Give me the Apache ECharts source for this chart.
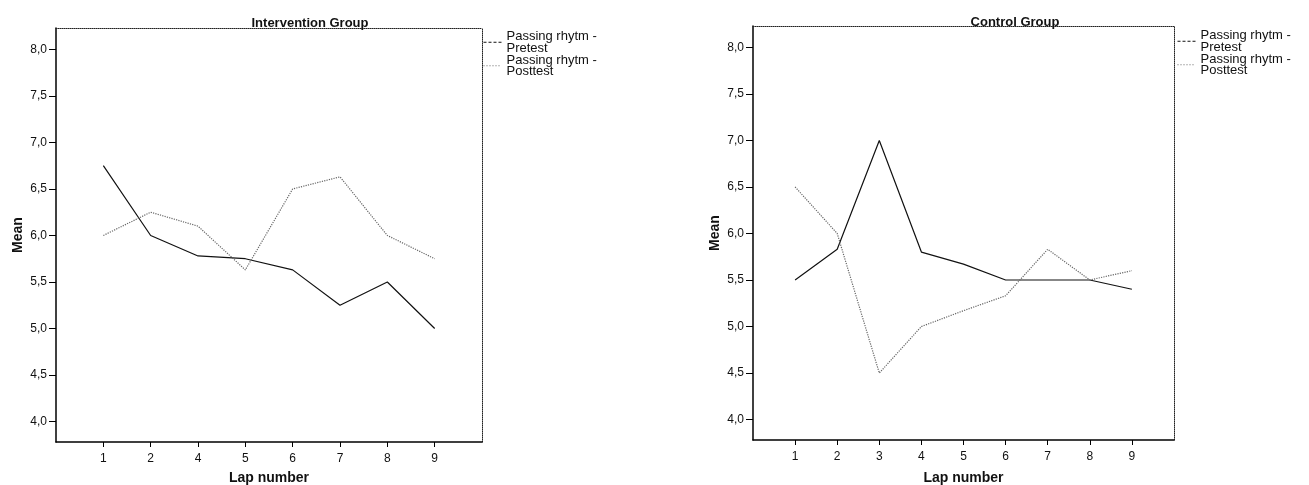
<!DOCTYPE html>
<html>
<head>
<meta charset="utf-8">
<script src="https://cdn.jsdelivr.net/npm/echarts@6/dist/echarts.min.js"></script>
<style>
  html, body { margin: 0; padding: 0; background: #fff; }
  #wrap { position: relative; width: 1309px; height: 485px; }
  #intervention { position: absolute; left: 0; top: 0; width: 654px; height: 485px; }
  #control { position: absolute; left: 654px; top: 0; width: 655px; height: 485px; }
</style>
</head>
<body>
<div id="wrap">
  <div id="intervention"></div>
  <div id="control"></div>
</div>
<script>
// Lap labels for each panel (the intervention group has no lap 3)
const interventionLaps = ['1', '2', '4', '5', '6', '7', '8', '9'];
const controlLaps = ['1', '2', '3', '4', '5', '6', '7', '8', '9'];

// Mean passing rhythm per lap
const interventionPretest = [6.75, 6.00, 5.78, 5.75, 5.63, 5.25, 5.50, 5.00];
const interventionPosttest = [6.00, 6.25, 6.10, 5.63, 6.50, 6.63, 6.00, 5.75];
const controlPretest = [5.50, 5.83, 7.00, 5.80, 5.67, 5.50, 5.50, 5.50, 5.40];
const controlPosttest = [6.50, 6.00, 4.50, 5.00, 5.17, 5.33, 5.83, 5.50, 5.60];

// Y tick values
const yTicks = [4.0, 4.5, 5.0, 5.5, 6.0, 6.5, 7.0, 7.5, 8.0];

const PRE = 'Passing rhytm -\nPretest';
const POST = 'Passing rhytm -\nPosttest';
const FONT = 'Arial, "Liberation Sans", sans-serif';
const INK = '#111';

function pairs(values) {
  return values.map((v, i) => [i + 1, v]);
}

// Dotted top/right edges that close the plot frame
function frameAxis(position) {
  return {
    type: 'value', position, min: 0, max: 1,
    axisLine: { show: true, onZero: false, lineStyle: { color: '#222', width: 1, type: 'dotted' } },
    axisTick: { show: false }, axisLabel: { show: false }, splitLine: { show: false }
  };
}

function buildOption(cfg) {
  const xTicks = cfg.laps.map((_, i) => i + 1);
  return {
    animation: false,
    backgroundColor: '#fff',
    title: {
      text: cfg.title, left: cfg.titleX, top: cfg.titleTop, textAlign: 'center',
      textStyle: { fontFamily: FONT, fontSize: 13, fontWeight: 'bold', color: INK }
    },
    legend: {
      orient: 'vertical', left: cfg.legendX, top: cfg.legendTop,
      padding: 0,
      itemWidth: 18, itemHeight: 10, itemGap: -1,
      itemStyle: { opacity: 0 },
      data: [
        { name: PRE, lineStyle: { type: [3, 2], color: '#111', width: 1 } },
        { name: POST, lineStyle: { type: [1, 2], color: '#666', width: 1 } }
      ],
      textStyle: { fontFamily: FONT, fontSize: 13, color: INK, lineHeight: 11.5 },
      selectedMode: false
    },
    grid: Object.assign({ outerBoundsMode: 'none', containLabel: false }, cfg.grid),
    xAxis: [{
      type: 'value', min: 0, max: cfg.laps.length + 1,
      name: 'Lap number', nameLocation: 'middle', nameGap: cfg.xNameGap, nameMoveOverlap: false,
      nameTextStyle: { fontFamily: FONT, fontSize: 14, fontWeight: 'bold', color: INK },
      axisLine: { show: true, onZero: false, lineStyle: { color: '#000', width: 1.5 } },
      axisTick: { show: true, length: 5, lineStyle: { color: '#000' }, customValues: xTicks },
      axisLabel: {
        fontFamily: FONT, fontSize: 12, color: INK, margin: 11,
        customValues: xTicks,
        formatter: v => cfg.laps[Math.round(v) - 1]
      },
      splitLine: { show: false }
    }, frameAxis('top')],
    yAxis: [{
      type: 'value', min: 3.78, max: 8.23,
      name: 'Mean', nameLocation: 'middle', nameGap: 31, nameRotate: 90, nameMoveOverlap: false,
      nameTextStyle: { fontFamily: FONT, fontSize: 14, fontWeight: 'bold', color: INK },
      axisLine: { show: true, onZero: false, lineStyle: { color: '#000', width: 1.5 } },
      axisTick: { show: true, length: 7, lineStyle: { color: '#000' }, customValues: yTicks },
      axisLabel: {
        fontFamily: FONT, fontSize: 12, color: INK, margin: 9,
        customValues: yTicks,
        formatter: v => v.toFixed(1).replace('.', ',')
      },
      splitLine: { show: false }
    }, frameAxis('right')],
    series: [
      {
        name: PRE, type: 'line', data: pairs(cfg.pre), symbol: 'none', silent: true,
        lineStyle: { color: '#111', width: 1.2 }, itemStyle: { color: '#111' }
      },
      {
        name: POST, type: 'line', data: pairs(cfg.post), symbol: 'none', silent: true,
        lineStyle: { color: '#666', width: 1.2, type: 'dotted' }, itemStyle: { color: '#666' }
      }
    ]
  };
}

const left = echarts.init(document.getElementById('intervention'));
left.setOption(buildOption({
  title: 'Intervention Group', titleX: 305, titleTop: 12,
  legendX: 483, legendTop: 30,
  grid: { left: 56, right: 172, top: 28, bottom: 43 },
  xNameGap: 29,
  laps: interventionLaps, pre: interventionPretest, post: interventionPosttest
}));

const right = echarts.init(document.getElementById('control'));
right.setOption(buildOption({
  title: 'Control Group', titleX: 356, titleTop: 11,
  legendX: 523, legendTop: 29,
  grid: { left: 99, right: 135, top: 26, bottom: 45 },
  xNameGap: 31,
  laps: controlLaps, pre: controlPretest, post: controlPosttest
}));
</script>
</body>
</html>
